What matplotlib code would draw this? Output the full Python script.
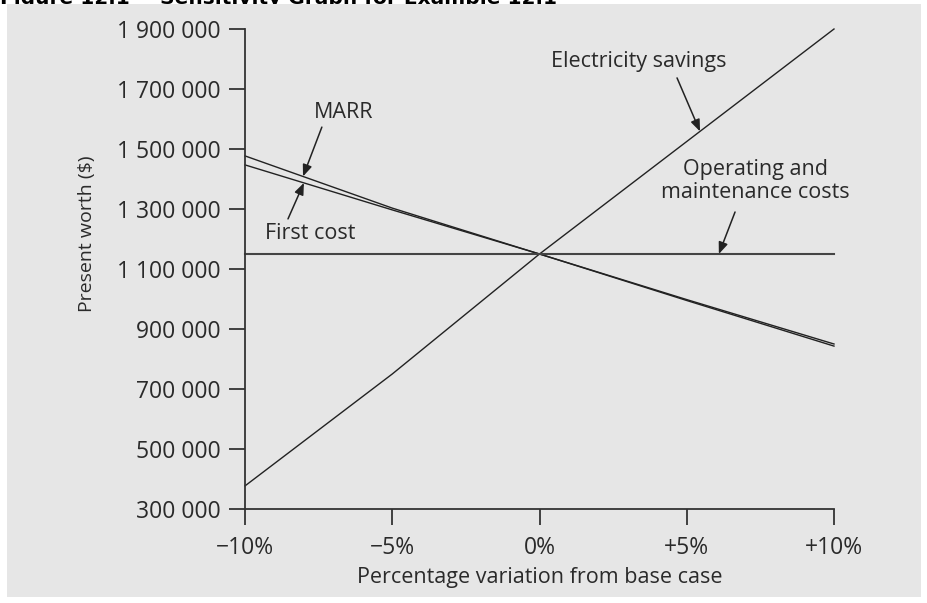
import numpy as np
import matplotlib

matplotlib.use("Agg")
import matplotlib.pyplot as plt
from matplotlib.patches import Rectangle

# values
variation = [-10, -5, 0, 5, 10]
electricity = [377000, 750000, 1150000, 1525000, 1900000]
marr = [1477000, 1303000, 1150000, 998000, 850000]
first_cost = [1447000, 1297000, 1150000, 995000, 843000]
om_costs = [1150000, 1150000, 1150000, 1150000, 1150000]

x_ticks = [-10, -5, 0, 5, 10]
x_labels = ["\u221210%", "\u22125%", "0%", "+5%", "+10%"]
y_ticks = [300000, 500000, 700000, 900000, 1100000, 1300000, 1500000, 1700000, 1900000]
y_labels = ["300 000", "500 000", "700 000", "900 000", "1 100 000",
            "1 300 000", "1 500 000", "1 700 000", "1 900 000"]

plt.rcParams["font.family"] = ["Open Sans", "DejaVu Sans"]

W, H = 927, 603
fig = plt.figure(figsize=(W / 100, H / 100), dpi=100)
fig.patch.set_facecolor("white")

# caption, mostly cut off at the top edge
fig.text(0.0, 1 - 3.5 / H, "Figure 12.1", family="DejaVu Sans", weight="bold",
         fontsize=14.5, va="baseline", ha="left", zorder=-3)
fig.text(160 / W, 1 - 3.5 / H, "Sensitivity Graph for Example 12.1", family="DejaVu Sans",
         weight="bold", fontsize=14.5, va="baseline", ha="left", zorder=-3)

# grey panel
fig.patches.append(Rectangle((7 / W, 1 - 597 / H), 914 / W, 593 / H, transform=fig.transFigure,
                             facecolor="#e6e6e6", edgecolor="none", zorder=-1))

ax = fig.add_axes([245 / W, 1 - 509 / H, 589 / W, 480 / H])
ax.set_facecolor("none")
ax.set_xlim(-10, 10)
ax.set_ylim(300000, 1900000)

line_kw = dict(color="#222222", lw=1.0, clip_on=False)
ax.plot(variation, electricity, **line_kw)
ax.plot(variation, marr, **line_kw)
ax.plot(variation, first_cost, **line_kw)
ax.plot(variation, om_costs, color="#444444", lw=1.5, clip_on=False)

for side in ["top", "right"]:
    ax.spines[side].set_visible(False)
for side in ["left", "bottom"]:
    ax.spines[side].set_color("#333333")
    ax.spines[side].set_linewidth(1.3)

ax.set_xticks(x_ticks)
ax.set_xticklabels(x_labels)
ax.set_yticks(y_ticks)
ax.set_yticklabels(y_labels)
ax.tick_params(axis="both", direction="out", length=11.5, width=1.3, color="#333333",
               labelsize=16.5, labelcolor="#2a2a2a")
ax.tick_params(axis="y", pad=6.0)
ax.tick_params(axis="x", pad=8)

ax.set_xlabel("Percentage variation from base case", fontsize=15.5, color="#2a2a2a")
ax.xaxis.label.set_va("center")
ax.xaxis.set_label_coords(0.5, -0.142)
ax.set_ylabel("Present worth ($)", fontsize=14, color="#2a2a2a")
ax.yaxis.label.set_va("center")
ax.yaxis.set_label_coords(-0.268, 0.573)

arrow = dict(arrowstyle="-|>,head_length=0.7,head_width=0.28", color="#222222", lw=1.1,
             shrinkA=0, shrinkB=0)
txt_kw = dict(fontsize=15.5, color="#2a2a2a", ha="center", va="center")


def point_on(series, pct):
    return (pct, float(np.interp(pct, variation, series)))


ax.annotate("", xy=point_on(marr, -8.03), xytext=(-7.39, 1573000), arrowprops=arrow)
ax.text(-6.64, 1620000, "MARR", **txt_kw)

ax.annotate("", xy=point_on(first_cost, -8.0), xytext=(-8.54, 1267000), arrowprops=arrow)
ax.text(-7.79, 1217000, "First cost", **txt_kw)

ax.annotate("", xy=point_on(electricity, 5.45), xytext=(4.67, 1737000), arrowprops=arrow)
ax.text(3.38, 1790000, "Electricity savings", **txt_kw)

ax.annotate("", xy=point_on(om_costs, 6.09), xytext=(6.64, 1290000), arrowprops=arrow)
ax.text(7.32, 1393000, "Operating and\nmaintenance costs", linespacing=1.1, **txt_kw)

fig.savefig("out.png", dpi=100)
